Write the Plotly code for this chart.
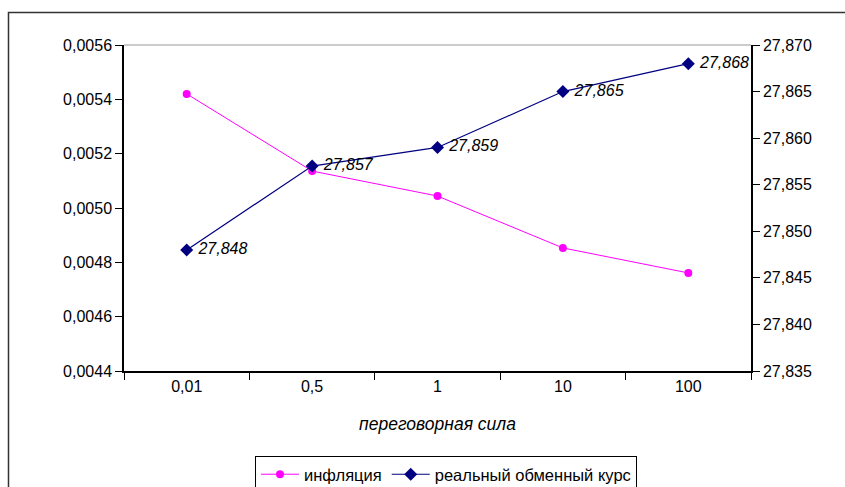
import plotly.graph_objects as go

categories = ["0,01", "0,5", "1", "10", "100"]
inflation = [0.00542, 0.005136, 0.005044, 0.004853, 0.004761]
real_rate = [27.848, 27.857, 27.859, 27.865, 27.868]
series_names = ["инфляция", "реальный обменный курс"]
x_title = "переговорная сила"

FONT = "Liberation Sans, Arial, sans-serif"
W, H = 845, 487
L, R, T, B = 124, 751, 45, 371
pw, ph = R - L, B - T

def px(x):
    return (x - L) / pw

def py(y):
    return (B - y) / ph

labels = [f"{v:.3f}".replace(".", ",") for v in real_rate]

fig = go.Figure()
fig.add_trace(go.Scatter(
    x=categories, y=inflation, name=series_names[0], mode="lines+markers",
    line=dict(color="#ff00ff", width=1),
    marker=dict(symbol="circle", size=8, color="#ff00ff"),
    yaxis="y",
))
fig.add_trace(go.Scatter(
    x=categories, y=real_rate, name=series_names[1], mode="lines+markers+text",
    line=dict(color="#000080", width=1.2),
    marker=dict(symbol="diamond", size=10, color="#000080"),
    text=["<i>\u00a0" + s + "</i>" for s in labels],
    textposition="middle right",
    textfont=dict(family=FONT, size=16, color="black"),
    cliponaxis=False,
    yaxis="y2",
))

fig.update_layout(
    width=W, height=H,
    margin=dict(l=L, r=W - R, t=T, b=H - B, pad=0, autoexpand=False),
    paper_bgcolor="white", plot_bgcolor="white",
    separators=", ",
    font=dict(family=FONT, size=16, color="black"),
    showlegend=True,
    legend=dict(
        orientation="h", x=px(255), y=py(456), xanchor="left", yanchor="top",
        bordercolor="black", borderwidth=1, bgcolor="white",
        font=dict(family=FONT, size=16.5, color="black"),
        itemwidth=38, tracegroupgap=0,
    ),
    xaxis=dict(
        type="category", tickson="boundaries", showgrid=False,
        showline=True, linecolor="black", linewidth=1.5,
        ticks="outside", ticklen=7, tickcolor="black",
        tickfont=dict(family=FONT, size=16),
        title=dict(text="<i>" + x_title + "</i>", font=dict(family=FONT, size=17.5), standoff=24),
        range=[-0.5, 4.5], zeroline=False,
    ),
    yaxis=dict(
        range=[0.0044, 0.0056], dtick=0.0002, tick0=0.0044, tickformat=".4f",
        showgrid=False, zeroline=False,
        showline=True, linecolor="black", linewidth=1.5,
        ticks="outside", ticklen=7, tickcolor="black",
        tickfont=dict(family=FONT, size=16),
    ),
    yaxis2=dict(
        range=[27.835, 27.870], dtick=0.005, tick0=27.835, tickformat=".3f",
        overlaying="y", side="right", showgrid=False, zeroline=False,
        showline=True, linecolor="black", linewidth=1.5,
        ticks="outside", ticklen=7, tickcolor="black",
        tickfont=dict(family=FONT, size=16),
    ),
    shapes=[
        dict(type="line", xref="paper", yref="paper", x0=0, x1=1, y0=1, y1=1,
             line=dict(color="#999999", width=1)),
        dict(type="rect", xref="paper", yref="paper",
             x0=px(8.5), x1=px(900), y0=py(12.5), y1=py(540),
             line=dict(color="#333333", width=1.5), layer="below"),
    ],
)

fig.write_html("out.html")
